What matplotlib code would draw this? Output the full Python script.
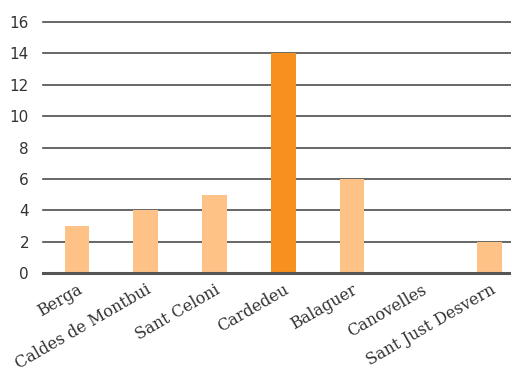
import matplotlib
matplotlib.use('Agg')
import matplotlib.pyplot as plt

towns = ['Berga', 'Caldes de Montbui', 'Sant Celoni', 'Cardedeu',
         'Balaguer', 'Canovelles', 'Sant Just Desvern']
values = [3, 4, 5, 14, 6, 0, 2]
highlight = 'Cardedeu'
yticks = [0, 2, 4, 6, 8, 10, 12, 14, 16]

light = '#fec287'
dark = '#f7901e'
colors = [dark if t == highlight else light for t in towns]

fig = plt.figure(figsize=(5.11, 3.74), dpi=100)
ax = fig.add_axes([0.084, 0.27, 0.916, 0.671])

x = list(range(len(towns)))
ax.bar(x, values, width=0.36, color=colors, zorder=3)

ax.set_ylim(0, 16)
ax.set_xlim(-0.494, 6.31)
ax.set_yticks(yticks)
ax.set_yticklabels([str(v) for v in yticks], fontsize=11, color='#333333',
                   family='DejaVu Sans')
# horizontal grid lines drawn by hand so the top one is not clipped
for v in yticks[1:]:
    ax.axhline(v, color='#4d4d4d', linewidth=1.2, zorder=1, clip_on=False)
ax.axhline(0, color='#555555', linewidth=2.2, zorder=4, clip_on=False)
ax.tick_params(axis='y', length=0, pad=10)
ax.tick_params(axis='x', length=0, pad=6)

ax.set_xticks(x)
ax.set_xticklabels(towns, rotation=30, ha='right', rotation_mode='anchor',
                   fontsize=11.5, color='#333333', family='DejaVu Serif')

for s in ax.spines.values():
    s.set_visible(False)

fig.savefig('out.png', dpi=100)
